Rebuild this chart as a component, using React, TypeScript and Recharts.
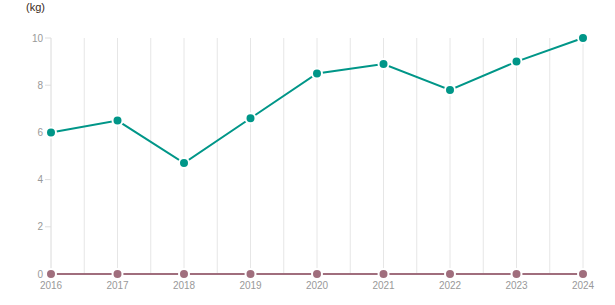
import { LineChart, Line, XAxis, YAxis, CartesianGrid } from 'recharts'

const years = [2016, 2017, 2018, 2019, 2020, 2021, 2022, 2023, 2024]
const mainSeries = [6.0, 6.5, 4.7, 6.6, 8.5, 8.9, 7.8, 9.0, 10.0]
const zeroSeries = [0, 0, 0, 0, 0, 0, 0, 0, 0]
const yTicks = [0, 2, 4, 6, 8, 10]

// half-year steps, only the whole years get a label
const xTicks = years.flatMap((y, i) => (i < years.length - 1 ? [y, y + 0.5] : [y]))

const data = years.map((year, i) => ({ year, main: mainSeries[i], zero: zeroSeries[i] }))

const tickStyle = { fontSize: 10, fill: '#999', fontFamily: 'Liberation Sans, Arial, sans-serif' }

export default function App() {
  return (
    <div style={{ position: 'absolute', left: 0, top: 0, width: 615, height: 305, background: '#fff' }}>
      <div
        style={{
          position: 'absolute', left: 26, top: 1, fontSize: 11, color: '#3a2a1a',
          fontFamily: 'Liberation Sans, Arial, sans-serif',
        }}
      >
        (kg)
      </div>
      <LineChart width={615} height={305} data={data} margin={{ top: 38, right: 32, left: 0, bottom: 9 }}>
        <CartesianGrid horizontal={false} stroke="#e6e6e6" />
        <XAxis
          dataKey="year"
          type="number"
          domain={[2016, 2024]}
          ticks={xTicks}
          interval={0}
          tickFormatter={(v: number) => (Number.isInteger(v) ? String(v) : '')}
          tick={tickStyle}
          tickLine={false}
          axisLine={false}
          height={22}
        />
        <YAxis
          domain={[0, 10]}
          ticks={yTicks}
          width={51}
          tick={tickStyle}
          tickSize={6}
          tickLine={{ stroke: '#ddd' }}
          axisLine={{ stroke: '#e6e6e6' }}
        />
        <Line
          dataKey="zero"
          stroke="#a06e7d"
          strokeWidth={2}
          dot={{ r: 5, fill: '#a06e7d', stroke: '#fff', strokeWidth: 2 }}
          isAnimationActive={false}
        />
        <Line
          dataKey="main"
          stroke="#009688"
          strokeWidth={2}
          dot={{ r: 5, fill: '#009688', stroke: '#fff', strokeWidth: 2 }}
          isAnimationActive={false}
        />
      </LineChart>
    </div>
  )
}
